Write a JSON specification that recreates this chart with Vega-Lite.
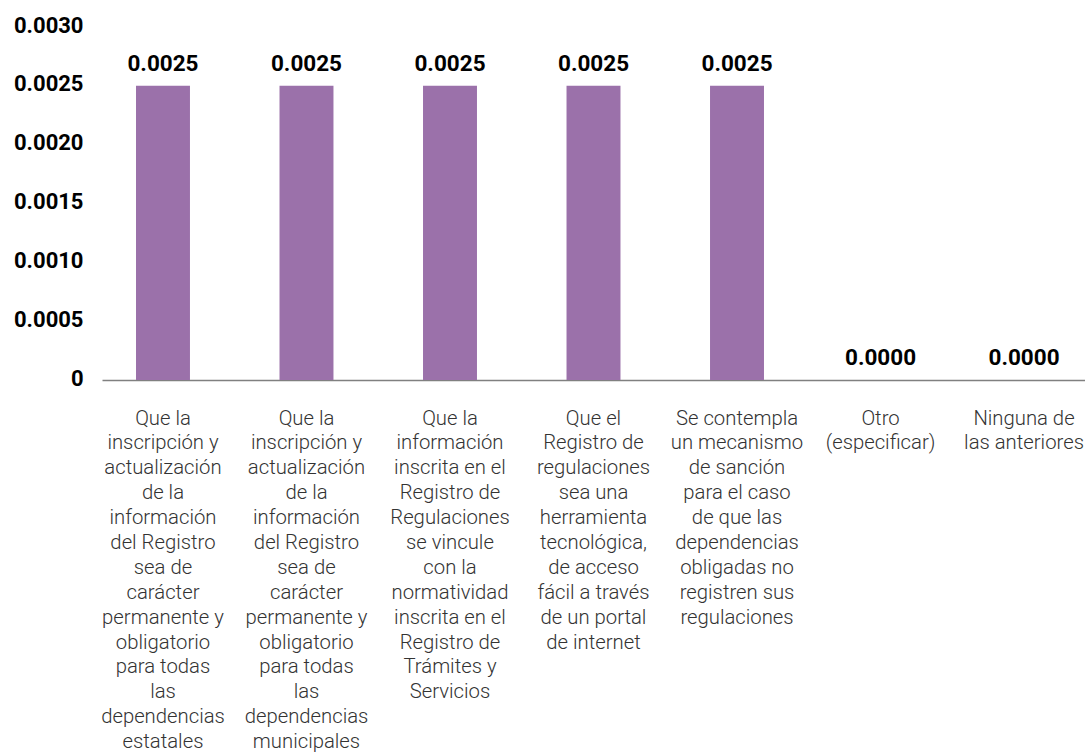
{
  "$schema": "https://vega.github.io/schema/vega-lite/v6.json",
  "width": 983,
  "height": 353,
  "autosize": "none",
  "padding": {"left": 102, "top": 27, "right": 0, "bottom": 373},
  "background": "white",
  "config": {"view": {"stroke": null}, "font": "Roboto"},
  "data": {
    "values": [
      {"cat": "Que la|inscripción y|actualización|de la|información|del Registro|sea de|carácter|permanente y|obligatorio|para todas|las|dependencias|estatales", "value": 0.0025},
      {"cat": "Que la|inscripción y|actualización|de la|información|del Registro|sea de|carácter|permanente y|obligatorio|para todas|las|dependencias|municipales", "value": 0.0025},
      {"cat": "Que la|información|inscrita en el|Registro de|Regulaciones|se vincule|con la|normatividad|inscrita en el|Registro de|Trámites y|Servicios", "value": 0.0025},
      {"cat": "Que el|Registro de|regulaciones|sea una|herramienta|tecnológica,|de acceso|fácil a través|de un portal|de internet", "value": 0.0025},
      {"cat": "Se contempla|un mecanismo|de sanción|para el caso|de que las|dependencias|obligadas no|registren sus|regulaciones", "value": 0.0025},
      {"cat": "Otro|(especificar)", "value": 0},
      {"cat": "Ninguna de|las anteriores", "value": 0}
    ]
  },
  "encoding": {
    "x": {
      "field": "cat",
      "type": "nominal",
      "sort": null,
      "scale": {"paddingInner": 0.624, "paddingOuter": 0.237},
      "axis": {
        "title": null,
        "labelAngle": 0,
        "labelExpr": "split(datum.label, '|')",
        "labelFont": "Roboto",
        "labelFontWeight": 300,
        "labelFontSize": 20.3,
        "labelLineHeight": 24.9,
        "labelColor": "#333333",
        "labelPadding": 28,
        "labelLimit": 300,
        "labelBaseline": "top",
        "ticks": false,
        "domainColor": "#808080",
        "domainWidth": 1.5
      }
    },
    "y": {
      "field": "value",
      "type": "quantitative",
      "scale": {"domain": [0, 0.003]},
      "axis": {
        "title": null,
        "values": [0, 0.0005, 0.001, 0.0015, 0.002, 0.0025, 0.003],
        "labelExpr": "datum.value == 0 ? '0' : format(datum.value, '.4f')",
        "labelFont": "Roboto",
        "labelFontWeight": "bold",
        "labelFontSize": 22,
        "labelColor": "#000000",
        "labelPadding": 19,
        "labelBaseline": "middle",
        "labelOffset": -2,
        "ticks": false,
        "domain": false,
        "grid": false
      }
    }
  },
  "layer": [
    {"mark": {"type": "bar", "color": "#9B71AA"}},
    {
      "mark": {"type": "text", "baseline": "alphabetic", "dy": -15, "font": "Roboto", "fontWeight": "bold", "fontSize": 22.5, "color": "#000000"},
      "encoding": {"text": {"field": "value", "type": "quantitative", "format": ".4f"}}
    }
  ]
}
